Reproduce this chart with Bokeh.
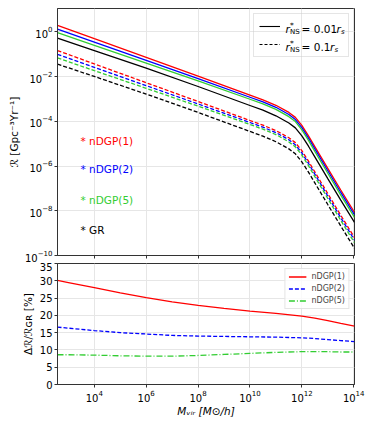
import math
from bokeh.plotting import figure
from bokeh.models import FixedTicker, Label, Legend, LegendItem, Range1d, CustomJSTickFormatter
from bokeh.layouts import column
from bokeh.embed import file_html
from bokeh.resources import INLINE

# ---------------- data ----------------
# top panel: log10 of halo mass and log10 of rate
log_mass = [2.58, 4, 6, 8, 10, 10.5, 11, 11.5, 11.75, 12, 12.25, 12.5, 13, 13.5, 14.03]
ndgp1_small = [0.30, -0.30, -1.14, -1.98, -2.83, -3.04, -3.28, -3.60, -3.82, -4.18, -4.64, -5.13, -6.10, -7.07, -8.07]
ndgp2_small = [0.13, -0.45, -1.27, -2.09, -2.92, -3.13, -3.37, -3.69, -3.92, -4.28, -4.74, -5.23, -6.21, -7.18, -8.18]
ndgp5_small = [-0.03, -0.60, -1.39, -2.19, -3.01, -3.22, -3.46, -3.79, -4.01, -4.38, -4.84, -5.34, -6.32, -7.30, -8.30]
gr_small = [-0.28, -0.83, -1.62, -2.44, -3.29, -3.50, -3.75, -4.07, -4.29, -4.65, -5.10, -5.59, -6.56, -7.52, -8.52]
ndgp1_large = [-0.83, -1.43, -2.27, -3.11, -3.96, -4.17, -4.41, -4.73, -4.95, -5.31, -5.77, -6.26, -7.23, -8.20, -9.20]
ndgp2_large = [-1.00, -1.58, -2.40, -3.22, -4.05, -4.26, -4.50, -4.82, -5.05, -5.41, -5.87, -6.36, -7.34, -8.31, -9.31]
ndgp5_large = [-1.16, -1.73, -2.52, -3.32, -4.14, -4.35, -4.59, -4.92, -5.14, -5.51, -5.97, -6.47, -7.45, -8.43, -9.43]
gr_large = [-1.44, -1.99, -2.78, -3.60, -4.45, -4.66, -4.91, -5.23, -5.45, -5.81, -6.26, -6.75, -7.72, -8.68, -9.68]

# bottom panel: relative difference in percent
ratio_log_mass = [2.58, 3, 4, 5, 6, 7, 8, 9, 10, 11, 12, 12.5, 13, 13.5, 14.03]
ratio_ndgp1 = [30.1, 29.5, 28.0, 26.5, 25.1, 23.9, 22.9, 22.0, 21.2, 20.6, 19.8, 19.2, 18.5, 17.7, 16.9]
ratio_ndgp2 = [16.6, 16.3, 15.6, 15.0, 14.6, 14.2, 14.0, 13.9, 13.8, 13.7, 13.5, 13.3, 13.0, 12.7, 12.4]
ratio_ndgp5 = [8.6, 8.6, 8.5, 8.3, 8.2, 8.2, 8.4, 8.7, 9.0, 9.3, 9.5, 9.5, 9.5, 9.4, 9.4]

model_names = ["nDGP(1)", "nDGP(2)", "nDGP(5)", "GR"]
x_tick_exps = [4, 6, 8, 10, 12, 14]
top_y_tick_exps = [-10, -8, -6, -4, -2, 0]
bottom_y_ticks = [0, 5, 10, 15, 20, 25, 30, 35]
radius_values = ["0.01", "0.1"]
top_y_label = "ℛ [Gpc⁻³Yr⁻¹]"
bottom_y_label = "Δℛ/ℛɢʀ [%]"
x_label = "Mᵥᵢᵣ [M⊙/h]"

# ---------------- styles ----------------
RED, BLUE, GREEN, BLACK = "#ff0000", "#0000ff", "#32cd32", "#000000"
model_colors = [RED, BLUE, GREEN, BLACK]
FONT = "DejaVu Sans"
GRID = "#e6e6e6"
FRAME = "#333333"
XMIN_EXP, XMAX_EXP = 2.58, 14.03
YTOP_EXP = 1.05


def compose(p, x, y, pieces, x_off=0.0, y_off=0.0, color="black"):
    pos = 0.0
    for (t, sz, st, dy, adv) in pieces:
        p.add_layout(Label(x=x, y=y, x_offset=x_off + pos, y_offset=y_off + dy, text=t,
                           text_font=FONT, text_font_size=f"{sz}px", text_font_style=st,
                           text_color=color, text_align="left", text_baseline="alphabetic",
                           level="overlay"))
        pos += adv


def style(p):
    p.background_fill_color = "white"
    p.border_fill_color = "white"
    p.outline_line_color = FRAME
    p.outline_line_width = 1
    for ax in (p.xaxis, p.yaxis):
        ax.axis_line_color = FRAME
        ax.major_tick_line_color = FRAME
        ax.major_tick_out = 3
        ax.major_tick_in = 0
        ax.minor_tick_out = 0
        ax.minor_tick_in = 0
        ax.major_label_text_font = FONT
        ax.major_label_text_font_size = "10px"
        ax.major_label_text_color = "black"
        ax.major_label_standoff = 2
        ax.axis_label_text_font = FONT
        ax.axis_label_text_font_size = "10.5px"
        ax.axis_label_text_font_style = "normal"
        ax.axis_label_text_color = "black"
        ax.axis_label_standoff = 3
    p.xgrid.grid_line_color = GRID
    p.ygrid.grid_line_color = GRID


x_range_top = Range1d(10 ** XMIN_EXP, 10 ** XMAX_EXP)
p1 = figure(width=372, height=262, x_axis_type="log", y_axis_type="log",
            x_range=x_range_top, y_range=Range1d(1e-10, 10 ** YTOP_EXP),
            output_backend="svg", toolbar_location=None,
            min_border_left=57, min_border_right=18, min_border_top=8, min_border_bottom=5)
style(p1)
xt = FixedTicker(ticks=[10.0 ** e for e in x_tick_exps], minor_ticks=[])
p1.xaxis.ticker = xt
p1.xgrid.ticker = xt
yt = FixedTicker(ticks=[10.0 ** e for e in top_y_tick_exps], minor_ticks=[])
p1.yaxis.ticker = yt
p1.ygrid.ticker = yt
p1.xaxis.formatter = CustomJSTickFormatter(code="return ' '")
p1.xaxis.major_label_text_font_size = "1px"
p1.xaxis.major_label_standoff = 0
p1.yaxis.axis_label = top_y_label
p1.yaxis.axis_label_standoff = 2

mass = [10 ** m for m in log_mass]
small = [ndgp1_small, ndgp2_small, ndgp5_small, gr_small]
large = [ndgp1_large, ndgp2_large, ndgp5_large, gr_large]
for series, c in zip(small, model_colors):
    p1.line(mass, [10 ** v for v in series], line_color=c, line_width=1.3)
for series, c in zip(large, model_colors):
    p1.line(mass, [10 ** v for v in series], line_color=c, line_width=1.3, line_dash="4 2")

# legend for radius choice (sample renderers lie outside the visible range)
r_solid = p1.line([1e3, 1e4], [1e-30, 1e-30], line_color="black", line_width=1.1)
r_dash = p1.line([1e3, 1e4], [1e-30, 1e-30], line_color="black", line_width=1.1, line_dash="3 2")
leg1 = Legend(items=[LegendItem(label="\u2003", renderers=[r_solid]),
                     LegendItem(label="\u2003", renderers=[r_dash])],
              location="top_right", margin=5, padding=5, spacing=4,
              glyph_width=21, glyph_height=14, label_height=14, label_width=55,
              label_standoff=8, label_text_font_size="10px",
              border_line_color="#cccccc", border_line_width=1,
              background_fill_color="white", background_fill_alpha=0.0)
p1.add_layout(leg1, "center")

eq_adv = [35.0, 28.5]
for row, (txt, adv) in enumerate(zip(radius_values, eq_adv)):
    base = -20.8 - row * 17.7
    pieces = [("r", 10.5, "italic", 0, 4.6), ("*", 7.5, "normal", 4.0, 0.0),
              ("NS", 7.0, "normal", -2.5, 11.5), (" = " + txt, 10.5, "normal", 0, adv),
              ("r", 10.5, "italic", 0, 4.4), ("s", 7.0, "italic", -2.5, 4.0)]
    compose(p1, 10 ** XMAX_EXP, 10 ** YTOP_EXP, pieces, x_off=-69, y_off=base)

# model annotations
annot_y_exps = [-4.86, -6.12, -7.52, -8.84]
for name, c, ye in zip(model_names, model_colors, annot_y_exps):
    p1.add_layout(Label(x=10 ** XMIN_EXP, y=10 ** ye, x_offset=23, text="* " + name,
                        text_color=c, text_font=FONT, text_font_size="10.5px",
                        text_baseline="middle", text_align="left"))

# ---------------- bottom panel ----------------
p2 = figure(width=372, height=157, x_axis_type="log",
            x_range=x_range_top, y_range=Range1d(0, 35),
            output_backend="svg", toolbar_location=None,
            min_border_left=57, min_border_right=18, min_border_top=1, min_border_bottom=35)
style(p2)
p2.xaxis.ticker = xt
p2.xgrid.ticker = xt
bt = FixedTicker(ticks=bottom_y_ticks, minor_ticks=[])
p2.yaxis.ticker = bt
p2.ygrid.ticker = bt
p2.yaxis.axis_label = bottom_y_label
p2.xaxis.axis_label = x_label
p2.xaxis.axis_label_text_font_style = "italic"
p2.xaxis.axis_label_standoff = 0

rmass = [10 ** m for m in ratio_log_mass]
l1 = p2.line(rmass, ratio_ndgp1, line_color=RED, line_width=1.3)
l2 = p2.line(rmass, ratio_ndgp2, line_color=BLUE, line_width=1.3, line_dash="4 2")
l3 = p2.line(rmass, ratio_ndgp5, line_color=GREEN, line_width=1.3, line_dash="6 2 1 2")
leg2 = Legend(items=[LegendItem(label=model_names[0], renderers=[l1]),
                     LegendItem(label=model_names[1], renderers=[l2]),
                     LegendItem(label=model_names[2], renderers=[l3])],
              location="top_right", margin=5, padding=3, spacing=3,
              glyph_width=18, glyph_height=9, label_height=9, label_width=30,
              label_standoff=5, label_text_font=FONT, label_text_font_size="8px",
              border_line_color="#cccccc", border_line_width=1,
              background_fill_color="white", background_fill_alpha=0.8)
p2.add_layout(leg2, "center")

layout = column(p1, p2)
open("out.html", "w").write(file_html(layout, INLINE))
